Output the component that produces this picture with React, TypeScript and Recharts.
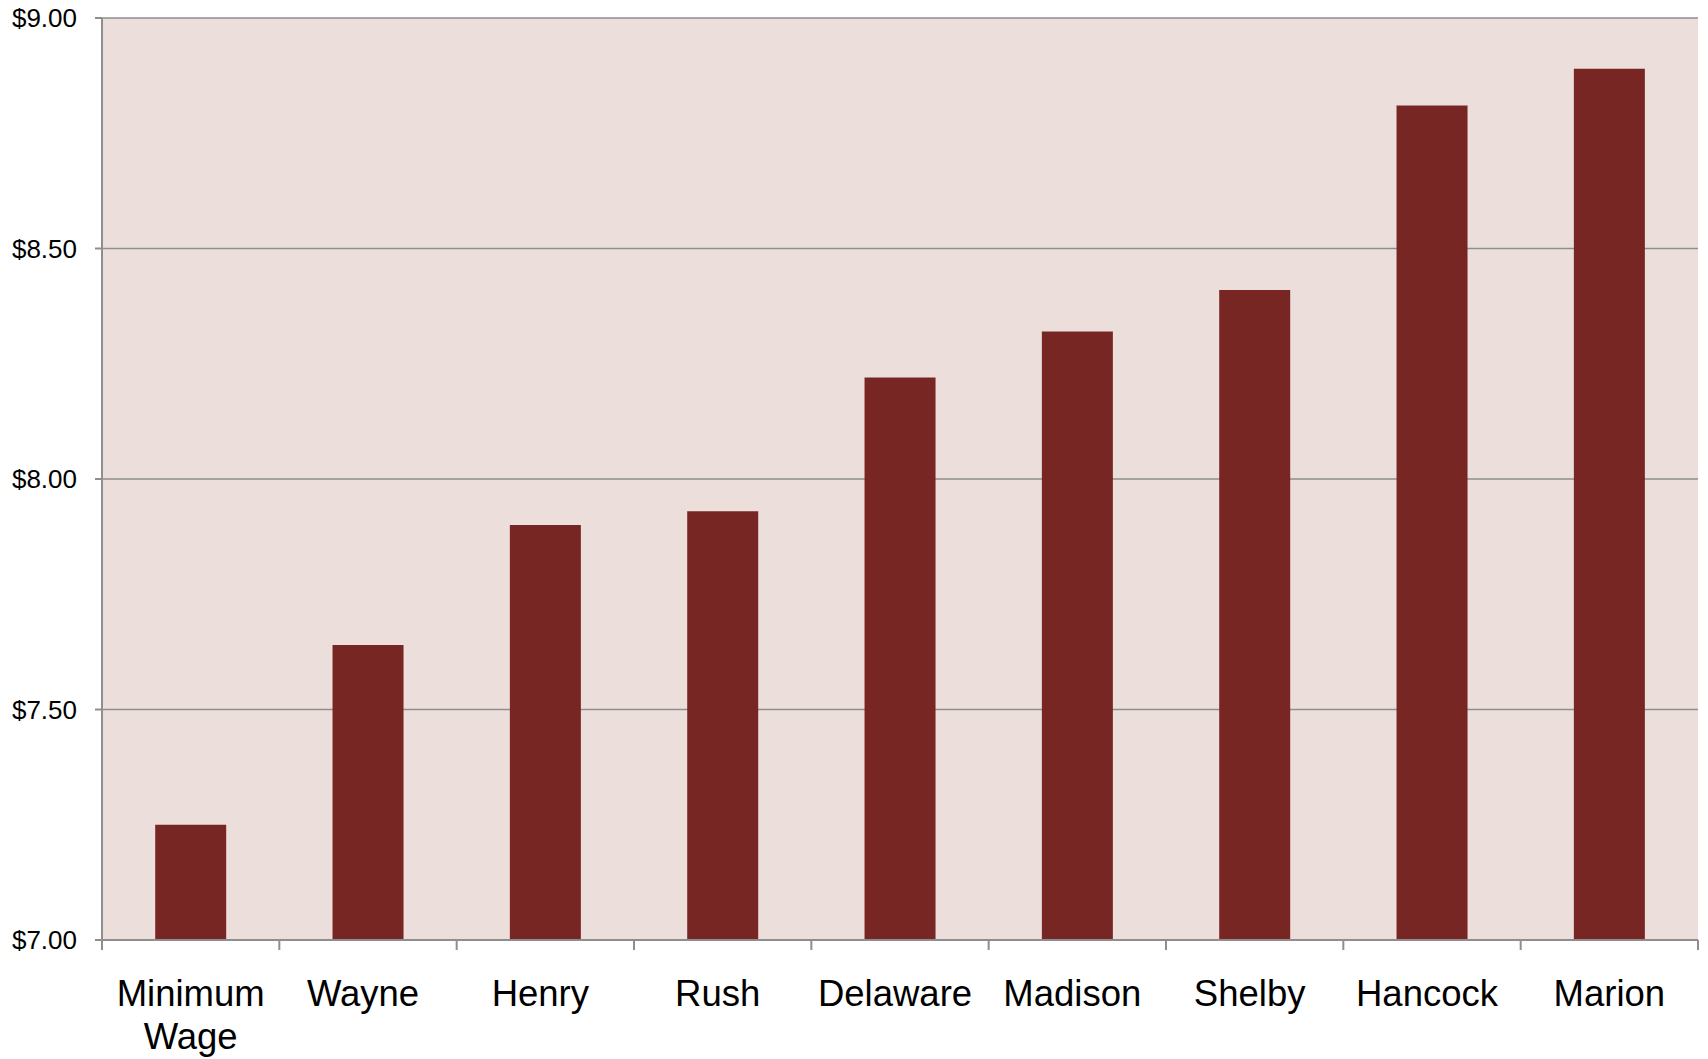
import { BarChart, Bar, XAxis, YAxis, CartesianGrid } from "recharts";

const counties = ["Minimum Wage", "Wayne", "Henry", "Rush", "Delaware", "Madison", "Shelby", "Hancock", "Marion"];
const wages = [7.25, 7.64, 7.9, 7.93, 8.22, 8.32, 8.41, 8.81, 8.89];
const yTicks = [7, 7.5, 8, 8.5, 9];

const data = counties.map((name, i) => ({ name, wage: wages[i] }));

const AXIS = "#8e8e8e";
const FONT = '"Liberation Sans", Arial, sans-serif';

function CountyTick(props: any) {
  const { x, y, payload, index, visibleTicksCount } = props;
  const half = payload?.offset ?? 0;
  const top = y - 12; // axis line position
  const last = index === visibleTicksCount - 1;
  // labels between the ends sit a little left of the bar centre in the original
  const cx = index === 0 || last ? x : x - 5;
  const lines = String(payload.value) === "Minimum Wage" ? ["Minimum", "Wage"] : [payload.value];
  return (
    <g>
      <line x1={x - half} x2={x - half} y1={top} y2={top + 10} stroke={AXIS} strokeWidth={2} />
      {last && <line x1={x + half} x2={x + half} y1={top} y2={top + 10} stroke={AXIS} strokeWidth={2} />}
      <text x={cx} y={y + 54} textAnchor="middle" fontSize={36.5} fontFamily={FONT} fill="#000">
        {lines.map((l: string, i: number) => (
          <tspan key={i} x={cx} dy={i === 0 ? 0 : 43}>
            {l}
          </tspan>
        ))}
      </text>
    </g>
  );
}

export default function App() {
  return (
    <div style={{ position: "absolute", left: 0, top: 0, background: "#fff" }}>
      <BarChart
        width={1708}
        height={1059}
        data={data}
        margin={{ top: 18, right: 10, left: 0, bottom: 0 }}
        barCategoryGap="30%"
      >
        <CartesianGrid vertical={false} fill="#ecdfdb" fillOpacity={1} stroke={AXIS} strokeWidth={1.5} />
        <XAxis
          dataKey="name"
          height={119}
          axisLine={{ stroke: AXIS, strokeWidth: 2 }}
          tickLine={false}
          tickSize={10}
          tickMargin={2}
          interval={0}
          tick={<CountyTick />}
        />
        <YAxis
          width={102}
          domain={[7, 9]}
          ticks={yTicks}
          allowDataOverflow
          tickFormatter={(v: number) => `$${v.toFixed(2)}`}
          axisLine={{ stroke: AXIS, strokeWidth: 2 }}
          tickLine={{ stroke: AXIS, strokeWidth: 2 }}
          tickSize={7}
          tickMargin={18}
          tick={{ fill: "#000", fontSize: 26, fontFamily: FONT }}
        />
        <Bar dataKey="wage" fill="#772624" isAnimationActive={false} />
      </BarChart>
    </div>
  );
}
